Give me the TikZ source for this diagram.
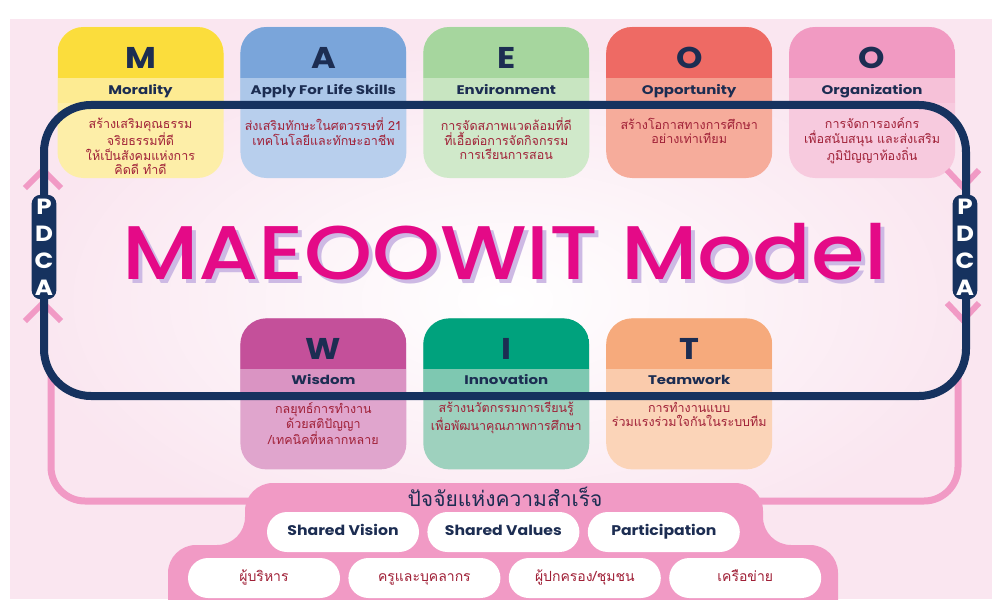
\documentclass[tikz,border=0pt]{standalone}
\usepackage{fontspec}
\setmainfont{Poppins}
\newfontfamily\wide{Poppins}[FakeStretch=1.12]
\newfontfamily\tagfont{Poppins}[FakeStretch=1.2]
\newfontfamily\headfont{Poppins Medium}[FakeStretch=1.14]
\newfontfamily\thai[Script=Thai]{Loma}
\usetikzlibrary{positioning}

\definecolor{navy}{RGB}{22,50,95}
\definecolor{ink}{RGB}{28,45,82}
\definecolor{wine}{RGB}{160,32,55}
\definecolor{rose}{RGB}{241,154,197}
\definecolor{bgpink}{RGB}{250,230,240}
\definecolor{hotpink}{RGB}{228,10,135}
\definecolor{lavender}{RGB}{205,185,228}
\definecolor{mHead}{RGB}{251,221,60}
\definecolor{mBody}{RGB}{253,238,168}
\definecolor{aHead}{RGB}{122,165,218}
\definecolor{aBody}{RGB}{184,207,237}
\definecolor{eHead}{RGB}{166,214,158}
\definecolor{eBody}{RGB}{208,233,202}
\definecolor{oHead}{RGB}{238,106,100}
\definecolor{oBody}{RGB}{246,172,155}
\definecolor{gHead}{RGB}{241,154,194}
\definecolor{gBody}{RGB}{247,202,222}
\definecolor{wHead}{RGB}{196,80,154}
\definecolor{wBody}{RGB}{224,165,205}
\definecolor{iHead}{RGB}{0,162,125}
\definecolor{iBody}{RGB}{158,209,190}
\definecolor{tHead}{RGB}{246,170,124}
\definecolor{tBody}{RGB}{251,212,184}

\begin{document}
\begin{tikzpicture}[x=1pt, y=-1pt,
    node distance=16.5pt and 16.5pt,
    card/.style 2 args={rectangle, rounded corners=26pt, minimum width=166pt, minimum height=151pt, inner sep=0pt, fill=#2,
      path picture={
        \fill[#1, sharp corners] (path picture bounding box.north west) rectangle ([yshift=-51pt]path picture bounding box.north east);
        \fill[#2!80!#1, sharp corners] ([yshift=-51pt]path picture bounding box.north west) rectangle ([yshift=-76pt]path picture bounding box.north east);}},
    letter/.style={font=\wide\fontsize{30}{30}\selectfont\bfseries, text=ink, inner sep=0pt},
    tag/.style={font=\tagfont\fontsize{12.5}{13}\selectfont\bfseries, text=ink, text height=9.5pt, text depth=2.5pt, inner sep=0pt},
    body/.style={font=\thai\fontsize{12.5}{14.5}\selectfont, text=wine, align=center, inner sep=0pt},
    frame/.style={draw=navy, line width=8pt, rounded corners=47pt, minimum width=922pt, minimum height=291pt},
    loopline/.style={draw=rose, line width=7pt, rounded corners=34pt},
    chev/.style={draw=rose, line width=6pt, line join=miter},
    pdca/.style={fill=navy, rounded corners=9pt, text=white, align=center, font=\wide\fontsize{22}{27}\selectfont\bfseries, inner xsep=3pt, inner ysep=4pt},
    headline/.style={font=\headfont\fontsize{76}{76}\selectfont, inner sep=0pt},
    pill/.style={fill=white, rounded corners=20pt, minimum width=152pt, minimum height=40pt, inner sep=0pt},
    pillen/.style={pill, font=\wide\fontsize{14}{14}\selectfont\bfseries, text=ink, text height=10pt, text depth=3pt},
    pillth/.style={pill, font=\thai\fontsize{14}{15}\selectfont, text=wine, text height=11pt, text depth=4pt}]
  \useasboundingbox (0,0) rectangle (992,599);
  \clip (0,0) rectangle (992,599);
  % background
  \fill[bgpink] (10,19) rectangle (992,599);
  \shade[inner color=white, outer color=bgpink] (505,300) ellipse [x radius=480pt, y radius=260pt];

  % pink loop to the success factors
  \coordinate (lTop) at (51,375);
  \coordinate (lEnd) at (255,501);
  \coordinate (rTop) at (958,375);
  \coordinate (rEnd) at (755,501);
  \draw[loopline] (lTop) |- (lEnd);
  \draw[loopline] (rTop) |- (rEnd);

  % cards
  \node[card={mHead}{mBody}] (m) at (140.5,102.5) {};
  \node[card={aHead}{aBody}, right=of m] (a) {};
  \node[card={eHead}{eBody}, right=of a] (e) {};
  \node[card={oHead}{oBody}, right=of e] (o) {};
  \node[card={gHead}{gBody}, right=of o] (g) {};
  \node[card={wHead}{wBody}, below=140pt of a] (w) {};
  \node[card={iHead}{iBody}, right=of w] (i) {};
  \node[card={tHead}{tBody}, right=of i] (t) {};

  \node[letter] (mL) at ([yshift=-31pt]m.north) {M};
  \node[tag] (mT) at ([yshift=-64pt]m.north) {Morality};
  \node[body, below=91pt of m.north] (mB) {สร้างเสริมคุณธรรม\\จริยธรรมที่ดี\\ให้เป็นสังคมแห่งการ\\คิดดี ทำดี};
  \node[letter] (aL) at ([yshift=-31pt]a.north) {A};
  \node[tag] (aT) at ([yshift=-64pt]a.north) {Apply For Life Skills};
  \node[body, below=91pt of a.north] (aB) {ส่งเสริมทักษะในศตวรรษที่ 21\\เทคโนโลยีและทักษะอาชีพ};
  \node[letter] (eL) at ([yshift=-31pt]e.north) {E};
  \node[tag] (eT) at ([yshift=-64pt]e.north) {Environment};
  \node[body, below=91pt of e.north] (eB) {การจัดสภาพแวดล้อมที่ดี\\ที่เอื้อต่อการจัดกิจกรรม\\การเรียนการสอน};
  \node[letter] (oL) at ([yshift=-31pt]o.north) {O};
  \node[tag] (oT) at ([yshift=-64pt]o.north) {Opportunity};
  \node[body, below=91pt of o.north] (oB) {สร้างโอกาสทางการศึกษา\\อย่างเท่าเทียม};
  \node[letter] (gL) at ([yshift=-31pt]g.north) {O};
  \node[tag] (gT) at ([yshift=-64pt]g.north) {Organization};
  \node[body, below=91pt of g.north] (gB) {การจัดการองค์กร\\เพื่อสนับสนุน และส่งเสริม\\ภูมิปัญญาท้องถิ่น};
  \node[letter] (wL) at ([yshift=-31pt]w.north) {W};
  \node[tag] (wT) at ([yshift=-63pt]w.north) {Wisdom};
  \node[body, below=84pt of w.north, font=\thai\fontsize{12.5}{13.5}\selectfont] (wB) {กลยุทธ์การทำงาน\\ด้วยสติปัญญา\\/เทคนิคที่หลากหลาย};
  \node[letter] (iL) at ([yshift=-31pt]i.north) {I};
  \node[tag] (iT) at ([yshift=-63pt]i.north) {Innovation};
  \node[body, below=84pt of i.north, font=\thai\fontsize{12.5}{13.5}\selectfont] (iB) {สร้างนวัตกรรมการเรียนรู้\\เพื่อพัฒนาคุณภาพการศึกษา};
  \node[letter] (tL) at ([yshift=-31pt]t.north) {T};
  \node[tag] (tT) at ([yshift=-63pt]t.north) {Teamwork};
  \node[body, below=84pt of t.north, font=\thai\fontsize{12.5}{13.5}\selectfont] (tB) {การทำงานแบบ\\ร่วมแรงร่วมใจกันในระบบทีม};

  % PDCA loop
  \draw[chev] (25,188) -- (43,170) -- (61,188);
  \draw[chev] (25,321) -- (43,303) -- (61,321);
  \draw[chev] (947,170) -- (963,187) -- (979,170);
  \draw[chev] (947,303) -- (963,320) -- (979,303);
  \node[frame] (loop) at (505,250.5) {};
  \node[pdca] (pdcaL) at (44,247) {P\\D\\C\\A};
  \node[pdca] (pdcaR) at (965,247) {P\\D\\C\\A};

  \node[headline, text=lavender] (titleS) at (509,256) {MAEOOWIT Model};
  \node[headline, text=hotpink] (title) at (505,252) {MAEOOWIT Model};

  % success factors
  \fill[rose, rounded corners=28pt] (168,640) -- (168,545) -- (245,545) -- (245,483) -- (763,483) -- (763,545) -- (838,545) -- (838,640) -- cycle;
  \node[font=\thai\fontsize{21}{21}\selectfont, text=ink] (succ) at (505,497) {ปัจจัยแห่งความสำเร็จ};
  \node[pillen] (vision) at (343,532) {Shared Vision};
  \node[pillen, right=8pt of vision] (values) {Shared Values};
  \node[pillen, right=8pt of values] (part) {Participation};
  \node[pillth] (exec) at (264,578) {ผู้บริหาร};
  \node[pillth, right=8pt of exec] (staff) {ครูและบุคลากร};
  \node[pillth, right=8pt of staff] (parent) {ผู้ปกครอง/ชุมชน};
  \node[pillth, right=8pt of parent] (net) {เครือข่าย};
\end{tikzpicture}
\end{document}
